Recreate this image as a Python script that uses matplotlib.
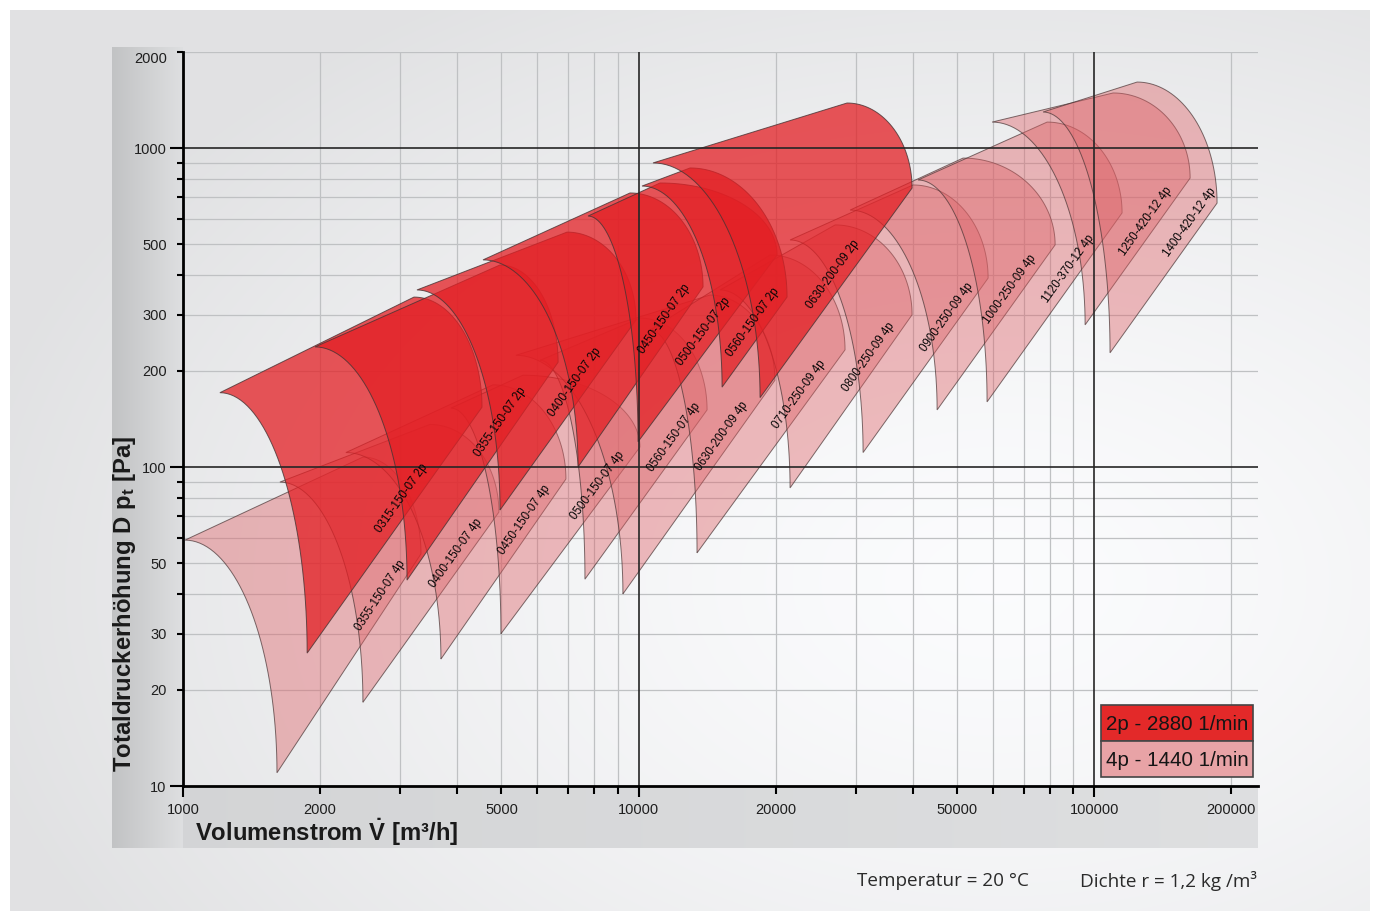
import numpy as np
import matplotlib
matplotlib.use("Agg")
import matplotlib.pyplot as plt
from matplotlib.patches import Rectangle
from matplotlib.ticker import FixedLocator, FuncFormatter

plt.rcParams['font.family'] = ['Liberation Sans', 'DejaVu Sans']
plt.rcParams['mathtext.fontset'] = 'custom'
plt.rcParams['mathtext.rm'] = 'Liberation Sans:bold'
plt.rcParams['mathtext.it'] = 'Liberation Sans:bold'
plt.rcParams['mathtext.bf'] = 'Liberation Sans:bold'

# fan fields, corner points as (flow m3/h, pressure Pa)
# L = left tip, P = top of the dome, R = right corner, B = bottom tip
names_2p = ['0315-150-07 2p', '0355-150-07 2p', '0400-150-07 2p', '0450-150-07 2p',
            '0500-150-07 2p', '0560-150-07 2p', '0630-200-09 2p']
L_2p = [(1205, 171), (1949, 238), (3263, 359), (4556, 446), (7747, 612), (10178, 760), (10760, 898)]
P_2p = [(3214, 341), (4965, 430), (6966, 545), (9579, 723), (11148, 777), (12976, 866), (28689, 1384)]
R_2p = [(4533, 154), (6659, 213), (9874, 289), (13855, 367), (20143, 462), (21185, 341), (39850, 749)]
B_2p = [(1873, 26.1), (3103, 44.2), (4965, 73.3), (7365, 100), (9975, 120), (15254, 178), (18482, 165)]

names_4p = ['0355-150-07 4p', '0400-150-07 4p', '0450-150-07 4p', '0500-150-07 4p',
            '0560-150-07 4p', '0630-200-09 4p', '0710-250-09 4p', '0800-250-09 4p',
            '0900-250-09 4p', '1000-250-09 4p', '1120-370-12 4p', '1250-420-12 4p',
            '1400-420-12 4p']
L_4p = [(1010, 59.0), (1632, 89.7), (2278, 111), (3874, 153), (6078, 216), (5380, 224),
        (10598, 269), (15100, 359), (21510, 515), (29130, 639), (41080, 794),
        (59720, 1206), (77270, 1297)]
P_4p = [(2485, 107.5), (3483, 136), (4790, 181), (5574, 194), (10077, 293), (14345, 346),
        (19440, 462), (27010, 574), (40050, 766), (51560, 930), (78860, 1206),
        (110100, 1488), (124300, 1610)]
R_4p = [(3330, 53.4), (4937, 72.2), (6928, 91.7), (10072, 115.5), (14140, 151), (19925, 187),
        (28400, 233), (39850, 300), (58530, 391), (82130, 497), (115200, 626),
        (162500, 805), (186200, 672)]
B_4p = [(1608, 11.0), (2483, 18.3), (3683, 25.0), (4988, 30.0), (7627, 44.5), (9241, 40.0),
        (13440, 53.8), (21510, 86.0), (31110, 111), (45230, 151), (58220, 160),
        (95570, 279), (108400, 228)]

x_tick_labels = [1000, 2000, 5000, 10000, 20000, 50000, 100000, 200000]
y_tick_labels = [10, 20, 30, 50, 100, 200, 300, 500, 1000, 2000]
legend_rows = ['2p - 2880 1/min', '4p - 1440 1/min']

# where each name sits along its lower edge (0 = right corner, 1 = bottom tip)
label_at_2p = [0.40, 0.31, 0.37, 0.22, 0.45, 0.36, 0.45]
label_at_4p = [0.22, 0.25, 0.26, 0.24, 0.20, 0.29, 0.25, 0.28, 0.26, 0.31, 0.33, 0.34, 0.17]

RED = (0.89, 0.12, 0.14)
PINK = (0.87, 0.38, 0.40)
EDGE = (0.28, 0.20, 0.20)

W, H = 1376, 915
fig = plt.figure(figsize=(W / 100, H / 100), dpi=100)
fig.patch.set_facecolor('white')

# background: soft radial light, grey bands behind the tick labels
bg = fig.add_axes([0, 0, 1, 1], zorder=0)
bg.set_xlim(0, W)
bg.set_ylim(H, 0)
bg.axis('off')
yy, xx = np.mgrid[0:H:3, 0:W:3]
r = np.sqrt(((xx - 1000) / 850.0) ** 2 + ((yy - 580) / 560.0) ** 2)
v = 0.985 - 0.075 * np.clip(r, 0, 1.25) ** 1.4
img = np.dstack([v, v + 0.002, v + 0.008]).clip(0, 1)
bg.imshow(img, extent=(10, W - 6, H - 4, 10), aspect='auto', interpolation='bilinear')
band = np.linspace(0.76, 0.87, 64)
bg.imshow(np.dstack([band, band + 0.004, band + 0.01]),
          extent=(112, 183, 848, 47), aspect='auto', interpolation='bilinear')
band2 = np.linspace(0.83, 0.87, 64)
bg.imshow(np.dstack([band2, band2 + 0.004, band2 + 0.01]),
          extent=(183, 1258, 848, 786), aspect='auto', interpolation='bilinear')

ax = fig.add_axes([183 / W, 1 - 786 / H, (1258 - 183) / W, (786 - 52) / H], zorder=2)
ax.set_facecolor('none')
ax.set_xscale('log')
ax.set_yscale('log')
ax.set_xlim(1000, 229000)
ax.set_ylim(10, 2000)

minor_x = [m * 10 ** e for e in (3, 4, 5) for m in range(2, 10) if m * 10 ** e < 229000]
minor_y = [m * 10 ** e for e in (1, 2, 3) for m in range(2, 10) if m * 10 ** e <= 2000]
for xv in minor_x:
    ax.axvline(xv, color='#bfc1c3', lw=0.9, zorder=1)
for yv in minor_y:
    ax.axhline(yv, color='#bfc1c3', lw=0.9, zorder=1)
for xv in (1e4, 1e5):
    ax.axvline(xv, color='#262626', lw=1.2, zorder=5)
for yv in (100, 1000):
    ax.axhline(yv, color='#262626', lw=1.2, zorder=5)


def outline(L, P, R, B, n=40):
    lx, ly = np.log10(L)
    px, py = np.log10(P)
    rx, ry = np.log10(R)
    bx, by = np.log10(B)
    s = np.linspace(0, 1, 12)
    top_x, top_y = lx + (px - lx) * s, ly + (py - ly) * s
    th = np.linspace(0, np.pi / 2, n)
    dome_x, dome_y = px + (rx - px) * np.sin(th), py + (ry - py) * (1 - np.cos(th))
    diag_x, diag_y = rx + (bx - rx) * s, ry + (by - ry) * s
    th2 = th[::-1]
    left_x, left_y = lx + (bx - lx) * np.sin(th2), ly + (by - ly) * (1 - np.cos(th2))
    xs = np.concatenate([top_x, dome_x, diag_x, left_x])
    ys = np.concatenate([top_y, dome_y, diag_y, left_y])
    return 10 ** xs, 10 ** ys


def put_label(name, R, B, t, off):
    pr = ax.transData.transform(R)
    pb = ax.transData.transform(B)
    d = pr - pb
    u = d / np.hypot(*d)
    nrm = np.array([-u[1], u[0]])
    pt = pr + t * (pb - pr) + off * nrm
    ang = np.degrees(np.arctan2(u[1], u[0]))
    q = ax.transData.inverted().transform(pt)
    ax.text(q[0], q[1], name, rotation=ang, rotation_mode='anchor', ha='center',
            va='center', fontsize=8.3, color='#050505', zorder=6)


for i in range(len(names_4p)):
    xs, ys = outline(L_4p[i], P_4p[i], R_4p[i], B_4p[i])
    ax.fill(xs, ys, fc=PINK + (0.42,), ec=EDGE + (0.7,), lw=0.7, zorder=2)
for i in range(len(names_2p)):
    xs, ys = outline(L_2p[i], P_2p[i], R_2p[i], B_2p[i])
    ax.fill(xs, ys, fc=RED + (0.75,), ec=EDGE + (0.8,), lw=0.7, zorder=3)

for i in range(len(names_4p)):
    put_label(names_4p[i], R_4p[i], B_4p[i], label_at_4p[i], 11)
for i in range(len(names_2p)):
    put_label(names_2p[i], R_2p[i], B_2p[i], label_at_2p[i], 13)

# axes, ticks
for side in ('top', 'right'):
    ax.spines[side].set_visible(False)
for side in ('left', 'bottom'):
    ax.spines[side].set_linewidth(2.0)
    ax.spines[side].set_zorder(7)

ax.xaxis.set_major_locator(FixedLocator([1e3, 1e4, 1e5]))
ax.xaxis.set_minor_locator(FixedLocator(minor_x))
ax.yaxis.set_major_locator(FixedLocator([10, 100, 1000]))
ax.yaxis.set_minor_locator(FixedLocator(minor_y))
fmt_x = FuncFormatter(lambda v, p: str(int(round(v))) if int(round(v)) in x_tick_labels else '')
fmt_y = FuncFormatter(lambda v, p: str(int(round(v))) if int(round(v)) in y_tick_labels else '')
ax.xaxis.set_major_formatter(fmt_x)
ax.xaxis.set_minor_formatter(fmt_x)
ax.yaxis.set_major_formatter(fmt_y)
ax.yaxis.set_minor_formatter(fmt_y)
ax.tick_params(axis='x', which='major', direction='out', length=8, width=1.5, pad=4.0,
               labelsize=10.5, labelcolor='#1e1e1e')
ax.tick_params(axis='x', which='minor', direction='out', length=5.8, width=1.5, pad=6.2,
               labelsize=10.5, labelcolor='#1e1e1e')
ax.tick_params(axis='y', which='major', direction='out', length=9.5, width=1.5, pad=2.2,
               labelsize=10.5, labelcolor='#1e1e1e')
ax.tick_params(axis='y', which='minor', direction='out', length=4.5, width=1.5, pad=7.2,
               labelsize=10.5, labelcolor='#1e1e1e')
# the top value sits just inside the frame
for lab in ax.yaxis.get_minorticklabels():
    if lab.get_position()[1] == 2000:
        lab.set_va('top')

fig.text(195 / W, 1 - 832 / H, 'Volumenstrom $\\dot{\\mathrm{V}}$ [m³/h]', fontsize=17.2,
         fontweight='bold', ha='left', va='center', color='#1a1a1a')
fig.text(125 / W, 1 - 772 / H, 'Totaldruckerhöhung D p$_{\\mathrm{t}}$ [Pa]', fontsize=17.2,
         fontweight='bold', rotation=90, ha='center', va='bottom', color='#1a1a1a')

# legend box and footnote
top = fig.add_axes([0, 0, 1, 1], zorder=10)
top.set_xlim(0, W)
top.set_ylim(H, 0)
top.axis('off')
top.patch.set_alpha(0)
top.add_patch(Rectangle((1101, 705), 152, 36, fc=(0.89, 0.16, 0.16), ec='#454545', lw=1.2))
top.add_patch(Rectangle((1101, 741), 152, 36, fc=(0.91, 0.64, 0.65), ec='#454545', lw=1.2))
top.text(1177, 724, legend_rows[0], fontsize=14.8, ha='center', va='center', color='#151515')
top.text(1177, 760, legend_rows[1], fontsize=14.8, ha='center', va='center', color='#151515')
top.text(857, 881, 'Temperatur = 20 °C', fontsize=13.6, family='Open Sans', ha='left',
         va='center', color='#2a2a2a')
top.text(1080, 881, 'Dichte r = 1,2 kg /m³', fontsize=13.6, family='Open Sans', ha='left',
         va='center', color='#2a2a2a')

fig.savefig('out.png', dpi=100)
